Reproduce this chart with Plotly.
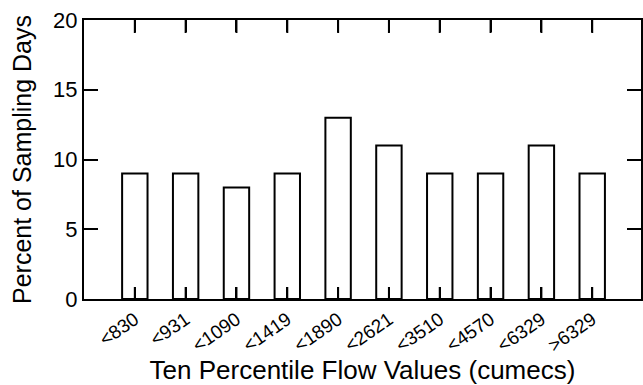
import plotly.graph_objects as go

# Percent of sampling days falling in each ten-percentile flow class
flow_classes = ["<830", "<931", "<1090", "<1419", "<1890",
                "<2621", "<3510", "<4570", "<6329", ">6329"]
percent_days = [9, 9, 8, 9, 13, 11, 9, 9, 11, 9]
y_ticks = [0, 5, 10, 15, 20]

positions = list(range(len(flow_classes)))
FONT = "Liberation Sans, Arial, Helvetica, sans-serif"

WIDTH, HEIGHT = 643, 385
MARGIN = dict(l=84, r=0, t=20, b=86)
Y_RANGE = [0, 20]
PLOT_H = HEIGHT - MARGIN["t"] - MARGIN["b"]


def px_to_y(px):
    """Convert a length in pixels to y-axis data units."""
    return px / PLOT_H * (Y_RANGE[1] - Y_RANGE[0])


fig = go.Figure(go.Bar(
    x=positions,
    y=percent_days,
    width=0.5,
    marker=dict(color="white", line=dict(color="black", width=2)),
    showlegend=False,
    hoverinfo="skip",
))

# inward category tick marks on the bottom and top edges, drawn over the bars
for y_edge, up, down in [(Y_RANGE[0], px_to_y(12), 0), (Y_RANGE[1], 0, px_to_y(13))]:
    fig.add_trace(go.Scatter(
        x=positions,
        y=[y_edge] * len(positions),
        mode="markers",
        marker=dict(size=1, color="rgba(0,0,0,0)"),
        error_y=dict(type="data", symmetric=False,
                     array=[up] * len(positions),
                     arrayminus=[down] * len(positions),
                     width=0, thickness=2, color="black"),
        cliponaxis=False,
        showlegend=False,
        hoverinfo="skip",
    ))

fig.update_layout(
    width=WIDTH,
    height=HEIGHT,
    margin=MARGIN,
    paper_bgcolor="white",
    plot_bgcolor="white",
    font=dict(family=FONT, color="black"),
    xaxis=dict(
        title=dict(text="Ten Percentile Flow Values (cumecs)",
                   font=dict(size=26), standoff=10),
        range=[-1, 9.96],
        tickmode="array",
        tickvals=positions,
        ticktext=flow_classes,
        tickangle=-35,
        tickfont=dict(size=19),
        ticks="inside",
        ticklen=12,
        tickwidth=2,
        tickcolor="black",
        showline=True,
        linecolor="black",
        linewidth=2,
        mirror="ticks",
        layer="above traces",
        showgrid=False,
        zeroline=False,
    ),
    yaxis=dict(
        title=dict(text="Percent of Sampling Days",
                   font=dict(size=25), standoff=14),
        range=Y_RANGE,
        tickmode="array",
        tickvals=y_ticks,
        tickfont=dict(size=22),
        ticks="inside",
        ticklen=14,
        tickwidth=2,
        tickcolor="black",
        showline=True,
        linecolor="black",
        linewidth=2,
        mirror="ticks",
        layer="above traces",
        showgrid=False,
        zeroline=False,
    ),
)

fig.write_html("out.html")
